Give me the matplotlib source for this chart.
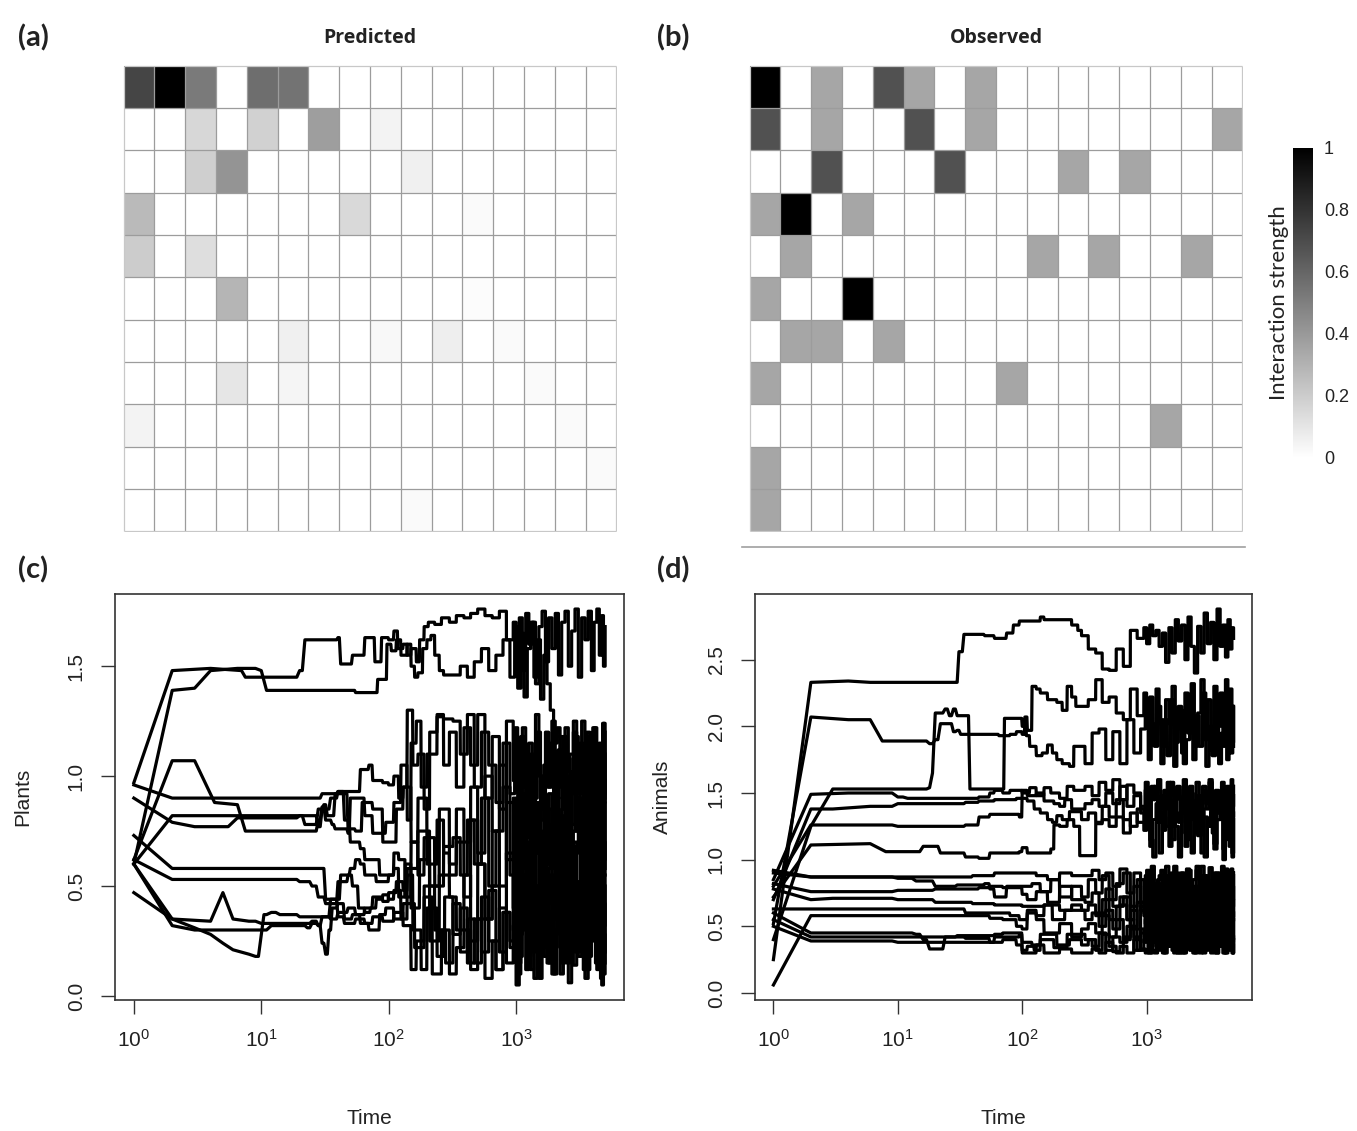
import numpy as np
import matplotlib
matplotlib.use("Agg")
import matplotlib.pyplot as plt
from matplotlib.colors import LinearSegmentedColormap
from matplotlib.lines import Line2D

W, H = 1357, 1131

# ---- heatmaps (rows = plants, cols = animals) ----
predicted = [
    [0.73, 1.00, 0.52, 0, 0.57, 0.55, 0, 0, 0, 0, 0, 0, 0, 0, 0, 0],
    [0, 0, 0.16, 0, 0.18, 0, 0.38, 0, 0.05, 0, 0, 0, 0, 0, 0, 0],
    [0, 0, 0.19, 0.42, 0, 0, 0, 0, 0, 0.06, 0, 0, 0, 0, 0, 0],
    [0.27, 0, 0, 0, 0, 0, 0, 0.15, 0, 0, 0, 0.02, 0, 0, 0, 0],
    [0.20, 0, 0.13, 0, 0, 0, 0, 0, 0, 0, 0, 0, 0, 0, 0, 0],
    [0, 0, 0, 0.29, 0, 0, 0, 0, 0, 0, 0, 0.015, 0, 0, 0, 0],
    [0, 0, 0, 0, 0, 0.06, 0, 0, 0.03, 0, 0.07, 0, 0.02, 0, 0, 0],
    [0, 0, 0, 0.10, 0, 0.04, 0, 0, 0, 0, 0, 0, 0, 0.02, 0, 0],
    [0.05, 0, 0, 0, 0, 0, 0, 0, 0, 0, 0, 0, 0, 0, 0.02, 0],
    [0, 0, 0, 0, 0, 0, 0, 0, 0, 0, 0, 0, 0, 0, 0, 0.02],
    [0, 0, 0, 0, 0, 0, 0, 0, 0, 0.02, 0, 0, 0, 0, 0, 0],
]
g, d = 0.35, 0.68
observed = [
    [1, 0, g, 0, d, g, 0, g, 0, 0, 0, 0, 0, 0, 0, 0],
    [d, 0, g, 0, 0, d, 0, g, 0, 0, 0, 0, 0, 0, 0, g],
    [0, 0, d, 0, 0, 0, d, 0, 0, 0, g, 0, g, 0, 0, 0],
    [g, 1, 0, g, 0, 0, 0, 0, 0, 0, 0, 0, 0, 0, 0, 0],
    [0, g, 0, 0, 0, 0, 0, 0, 0, g, 0, g, 0, 0, g, 0],
    [g, 0, 0, 1, 0, 0, 0, 0, 0, 0, 0, 0, 0, 0, 0, 0],
    [0, g, g, 0, g, 0, 0, 0, 0, 0, 0, 0, 0, 0, 0, 0],
    [g, 0, 0, 0, 0, 0, 0, 0, g, 0, 0, 0, 0, 0, 0, 0],
    [0, 0, 0, 0, 0, 0, 0, 0, 0, 0, 0, 0, 0, g, 0, 0],
    [g, 0, 0, 0, 0, 0, 0, 0, 0, 0, 0, 0, 0, 0, 0, 0],
    [g, 0, 0, 0, 0, 0, 0, 0, 0, 0, 0, 0, 0, 0, 0, 0],
]
cbar_ticks = [0, 0.2, 0.4, 0.6, 0.8, 1]
cbar_labels = ["0", "0.2", "0.4", "0.6", "0.8", "1"]

# ---- time series: early knots (time, value) then values on a late time grid ----
grid_a = [300, 340, 390, 440, 500, 570, 650, 740, 840, 950,
          1000, 1060, 1120, 1190, 1260, 1340, 1420, 1510, 1600, 1700,
          1800, 1910, 2030, 2150, 2280, 2420, 2570, 2730, 2900, 3080,
          3270, 3470, 3680, 3900, 4100, 4300, 4500, 4700, 4850, 5000]
grid_b = [320, 365, 415, 470, 535, 610, 695, 790, 895, 975,
          1030, 1090, 1155, 1225, 1300, 1380, 1465, 1555, 1650, 1750,
          1855, 1970, 2090, 2215, 2350, 2495, 2650, 2815, 2990, 3175,
          3370, 3575, 3790, 4000, 4200, 4400, 4600, 4775, 4925, 5000]

plants_early = [
    [(1, 0.97), (2, 1.48), (4, 1.49), (7, 1.48), (7.5, 1.45), (19, 1.45), (20, 1.48), (22, 1.62), (40, 1.63),
     (42, 1.51), (50, 1.51), (52, 1.55), (62, 1.55), (65, 1.63), (75, 1.63), (78, 1.52), (85, 1.52), (88, 1.63),
     (100, 1.62), (110, 1.66), (118, 1.58), (130, 1.60), (140, 1.55), (150, 1.58), (165, 1.52), (175, 1.62),
     (190, 1.68), (205, 1.70), (230, 1.69), (260, 1.72)],
    [(1, 0.60), (2, 1.39), (3, 1.40), (4, 1.48), (6.5, 1.49), (10, 1.48), (11, 1.39), (55, 1.38), (80, 1.38),
     (82, 1.44), (96, 1.44), (97, 1.60), (105, 1.57), (115, 1.62), (125, 1.55), (140, 1.60), (150, 1.50),
     (160, 1.45), (170, 1.47), (185, 1.58), (200, 1.62), (215, 1.64), (230, 1.55), (250, 1.48), (270, 1.46)],
    [(1, 0.62), (2, 1.07), (3, 1.07), (4.3, 0.88), (6.5, 0.87), (7.5, 0.75), (27, 0.75), (28, 0.80), (30, 0.86),
     (32, 0.80), (36, 0.78), (38, 0.76), (48, 0.74), (50, 0.90), (62, 0.90), (65, 0.82), (75, 0.74), (90, 0.74),
     (95, 0.79), (110, 0.88), (125, 1.05), (140, 0.80), (150, 1.15), (165, 1.25), (180, 0.95), (200, 1.10),
     (240, 1.28), (270, 1.05)],
    [(1, 0.96), (2, 0.90), (25, 0.90), (30, 0.92), (40, 0.93), (55, 0.93), (60, 1.03), (70, 1.05), (75, 0.98),
     (90, 0.97), (100, 0.96), (110, 1.00), (120, 0.90), (130, 0.95), (140, 1.30), (155, 1.05), (170, 1.10),
     (190, 0.85), (210, 1.20), (240, 1.27), (270, 1.26)],
    [(1, 0.90), (2, 0.79), (3, 0.77), (5.5, 0.77), (6.5, 0.81), (20, 0.82), (22, 0.78), (27, 0.78), (28, 0.85),
     (31, 0.87), (33, 0.82), (38, 0.92), (45, 0.92), (48, 0.76), (55, 0.75), (62, 0.88), (70, 0.88), (75, 0.85),
     (85, 0.85), (90, 0.70), (105, 0.70), (115, 0.85), (130, 0.95), (150, 0.70), (170, 0.90), (200, 0.60),
     (240, 0.80), (270, 0.65)],
    [(1, 0.60), (2, 0.82), (25, 0.82), (28, 0.77), (30, 0.85), (35, 0.90), (40, 0.93), (45, 0.80), (50, 0.70),
     (60, 0.67), (65, 0.62), (80, 0.62), (85, 0.55), (100, 0.55), (110, 0.65), (120, 0.62), (135, 0.45),
     (150, 0.70), (170, 0.55), (190, 0.72), (230, 0.50), (270, 0.68)],
    [(1, 0.73), (2, 0.58), (30, 0.58), (32, 0.44), (40, 0.44), (42, 0.55), (50, 0.58), (55, 0.62), (60, 0.60),
     (65, 0.55), (70, 0.55), (80, 0.52), (90, 0.52), (100, 0.55), (110, 0.58), (120, 0.45), (135, 0.60),
     (150, 0.40), (175, 0.62), (210, 0.25), (250, 0.55)],
    [(1, 0.62), (2, 0.53), (10, 0.53), (20, 0.52), (25, 0.50), (28, 0.45), (32, 0.42), (36, 0.42), (40, 0.52),
     (48, 0.55), (52, 0.50), (58, 0.40), (65, 0.38), (72, 0.40), (80, 0.44), (90, 0.46), (100, 0.44), (110, 0.48),
     (125, 0.35), (140, 0.55), (155, 0.30), (180, 0.12), (200, 0.40), (240, 0.18), (275, 0.45)],
    [(1, 0.60), (2, 0.35), (4, 0.34), (5, 0.47), (6, 0.35), (8, 0.34), (10, 0.33), (20, 0.33), (25, 0.34),
     (28, 0.32), (30, 0.36), (35, 0.44), (40, 0.36), (45, 0.33), (55, 0.35), (65, 0.33), (75, 0.36), (90, 0.34),
     (100, 0.34), (110, 0.38), (130, 0.32), (150, 0.12), (165, 0.25), (190, 0.45), (220, 0.10), (260, 0.30)],
    [(1, 0.60), (2, 0.32), (3, 0.30), (10, 0.30), (12, 0.32), (20, 0.32), (23, 0.31), (25, 0.33), (28, 0.32),
     (30, 0.24), (32, 0.19), (34, 0.30), (36, 0.40), (40, 0.42), (45, 0.35), (52, 0.37), (60, 0.33), (70, 0.30),
     (85, 0.37), (95, 0.40), (110, 0.35), (130, 0.42), (160, 0.22), (190, 0.50), (230, 0.30), (280, 0.15)],
    [(1, 0.47), (2, 0.35), (3, 0.31), (4, 0.28), (5, 0.24), (6, 0.21), (8, 0.19), (9, 0.18), (10.5, 0.37),
     (12, 0.38), (14, 0.37), (20, 0.36), (30, 0.36), (35, 0.35), (40, 0.38), (48, 0.40), (55, 0.37), (65, 0.40),
     (75, 0.45), (90, 0.43), (100, 0.47), (115, 0.52), (130, 0.48), (140, 0.58), (170, 0.75), (210, 0.50),
     (250, 0.85)],
]
plants_late = [
    [1.70, 1.73, 1.72, 1.74, 1.76, 1.73, 1.72, 1.75, 1.62, 1.70, 1.55, 1.72, 1.48, 1.74, 1.60, 1.70, 1.42, 1.68,
     1.75, 1.52, 1.72, 1.58, 1.74, 1.46, 1.70, 1.75, 1.50, 1.66, 1.76, 1.45, 1.72, 1.62, 1.75, 1.48, 1.70, 1.76,
     1.55, 1.73, 1.50, 1.68],
    [1.46, 1.50, 1.45, 1.52, 1.58, 1.48, 1.55, 1.62, 1.45, 1.68, 1.40, 1.65, 1.36, 1.58, 1.70, 1.45, 1.62, 1.35,
     1.55, 1.42, 1.30, 1.15, 1.22, 0.95, 1.18, 0.85, 1.10, 1.25, 0.90, 1.15, 0.80, 1.20, 1.00, 1.22, 0.85, 1.12,
     0.95, 1.24, 0.88, 1.20],
    [1.20, 0.95, 1.22, 1.05, 1.28, 0.90, 1.18, 0.85, 1.25, 0.98, 1.10, 0.80, 1.22, 0.92, 1.15, 0.78, 1.28, 1.00,
     0.85, 1.20, 0.95, 1.25, 0.82, 1.12, 0.90, 1.22, 1.02, 0.78, 1.18, 0.92, 1.25, 0.85, 1.10, 0.95, 1.22, 0.80,
     1.15, 0.98, 1.24, 0.90],
    [1.25, 1.10, 1.28, 0.95, 1.20, 1.05, 0.88, 1.15, 0.92, 1.22, 0.85, 1.18, 0.95, 0.75, 1.10, 0.90, 1.20, 0.80,
     1.05, 0.95, 1.15, 0.78, 1.00, 1.18, 0.85, 1.08, 0.92, 1.20, 0.80, 1.05, 0.95, 1.18, 0.75, 1.02, 0.88, 1.12,
     0.80, 1.05, 0.92, 1.10],
    [0.60, 0.85, 0.70, 0.95, 0.65, 1.00, 0.75, 1.05, 0.62, 0.90, 0.70, 1.02, 0.58, 0.95, 0.72, 1.08, 0.65, 0.88,
     1.00, 0.60, 0.92, 0.70, 1.05, 0.62, 0.85, 0.98, 0.68, 1.02, 0.75, 0.90, 0.60, 1.05, 0.72, 0.95, 0.65, 1.00,
     0.78, 0.92, 0.62, 0.98],
    [0.72, 0.55, 0.80, 0.60, 0.90, 0.50, 0.75, 0.95, 0.55, 0.85, 0.45, 0.92, 0.60, 0.80, 0.42, 0.88, 0.65, 0.98,
     0.50, 0.78, 0.58, 0.95, 0.45, 0.82, 0.62, 1.00, 0.48, 0.75, 0.90, 0.52, 0.85, 0.60, 0.95, 0.45, 0.80, 0.65,
     0.98, 0.50, 0.88, 0.55],
    [0.45, 0.30, 0.55, 0.25, 0.60, 0.35, 0.50, 0.20, 0.65, 0.30, 0.55, 0.18, 0.62, 0.35, 0.70, 0.22, 0.50, 0.65,
     0.28, 0.58, 0.15, 0.60, 0.35, 0.72, 0.25, 0.55, 0.40, 0.68, 0.20, 0.52, 0.30, 0.65, 0.18, 0.58, 0.38, 0.70,
     0.25, 0.60, 0.32, 0.55],
    [0.28, 0.40, 0.15, 0.35, 0.20, 0.48, 0.12, 0.38, 0.25, 0.55, 0.15, 0.45, 0.30, 0.60, 0.12, 0.50, 0.22, 0.65,
     0.18, 0.42, 0.55, 0.10, 0.48, 0.28, 0.62, 0.15, 0.45, 0.70, 0.20, 0.52, 0.12, 0.58, 0.30, 0.65, 0.15, 0.48,
     0.25, 0.60, 0.10, 0.50],
    [0.10, 0.22, 0.30, 0.12, 0.35, 0.08, 0.25, 0.40, 0.15, 0.32, 0.05, 0.28, 0.45, 0.12, 0.38, 0.20, 0.50, 0.08,
     0.35, 0.22, 0.45, 0.10, 0.30, 0.55, 0.15, 0.40, 0.06, 0.32, 0.48, 0.18, 0.38, 0.08, 0.45, 0.25, 0.52, 0.12,
     0.35, 0.05, 0.42, 0.20],
    [0.42, 0.20, 0.35, 0.15, 0.45, 0.25, 0.12, 0.38, 0.22, 0.50, 0.10, 0.40, 0.55, 0.18, 0.35, 0.08, 0.48, 0.25,
     0.58, 0.15, 0.38, 0.22, 0.52, 0.10, 0.45, 0.30, 0.60, 0.14, 0.40, 0.25, 0.55, 0.12, 0.35, 0.50, 0.18, 0.42,
     0.08, 0.48, 0.28, 0.15],
    [0.55, 0.70, 0.45, 0.80, 0.60, 0.35, 0.75, 0.50, 0.88, 0.40, 0.70, 0.30, 0.82, 0.55, 0.65, 0.92, 0.42, 0.75,
     0.28, 0.60, 0.85, 0.45, 0.70, 0.35, 0.90, 0.55, 0.78, 0.30, 0.65, 0.85, 0.40, 0.72, 0.55, 0.88, 0.35, 0.62,
     0.80, 0.45, 0.70, 0.58],
]

animals_early = [
    [(1, 0.25), (2, 2.33), (4, 2.34), (6, 2.33), (30, 2.33), (31, 2.56), (34, 2.69), (50, 2.68), (60, 2.66),
     (70, 2.66), (75, 2.70), (85, 2.76), (95, 2.79), (130, 2.79), (140, 2.82), (150, 2.80), (240, 2.80),
     (250, 2.76), (280, 2.72)],
    [(1, 0.52), (2, 2.07), (4, 2.05), (6, 2.05), (7.5, 1.89), (18, 1.87), (20, 1.90), (22, 2.02), (27, 2.02),
     (28, 1.96), (30, 1.97), (32, 1.94), (60, 1.94), (65, 1.93), (80, 1.94), (90, 1.96), (100, 1.94), (105, 2.03),
     (108, 1.93), (115, 1.85), (130, 1.78), (145, 1.80), (160, 1.86), (175, 1.80), (190, 1.75), (210, 1.72),
     (240, 1.70), (260, 1.85)],
    [(1, 0.40), (2, 1.25), (3, 1.53), (18, 1.54), (19, 1.65), (20, 2.10), (24, 2.13), (26, 2.08), (28, 2.13),
     (30, 2.08), (36, 2.08), (38, 1.53), (70, 1.53), (72, 2.06), (95, 2.06), (100, 2.00), (105, 2.07),
     (110, 1.97), (120, 2.30), (130, 2.28), (140, 2.25), (160, 2.20), (190, 2.18), (210, 2.12), (230, 2.30),
     (250, 2.22), (270, 2.15)],
    [(1, 0.85), (2, 1.49), (4, 1.50), (10, 1.47), (12, 1.46), (30, 1.46), (45, 1.47), (55, 1.50), (60, 1.52),
     (70, 1.50), (80, 1.52), (100, 1.50), (115, 1.54), (130, 1.48), (150, 1.54), (170, 1.50), (200, 1.46),
     (230, 1.55), (260, 1.52)],
    [(1, 0.70), (2, 1.38), (3, 1.38), (6, 1.40), (10, 1.42), (20, 1.42), (35, 1.43), (45, 1.44), (60, 1.45),
     (90, 1.46), (110, 1.44), (125, 1.38), (140, 1.35), (160, 1.30), (175, 1.28), (190, 1.33), (210, 1.30),
     (240, 1.36)],
    [(1, 0.80), (2, 1.26), (10, 1.25), (30, 1.25), (35, 1.26), (45, 1.32), (50, 1.32), (55, 1.34), (85, 1.34),
     (95, 1.32), (100, 1.52), (110, 1.48), (130, 1.50), (150, 1.44), (180, 1.42), (200, 1.40), (220, 1.45),
     (250, 1.38)],
    [(1, 0.72), (2, 1.11), (6, 1.12), (8, 1.06), (14, 1.06), (16, 1.10), (19, 1.10), (22, 1.05), (35, 1.02),
     (45, 1.01), (55, 1.05), (80, 1.05), (95, 1.06), (100, 1.09), (110, 1.05), (150, 1.05), (170, 1.08),
     (180, 1.26), (200, 1.25), (230, 1.30), (260, 1.25), (290, 1.03)],
    [(1, 0.92), (2, 0.87), (15, 0.87), (30, 0.87), (40, 0.88), (60, 0.90), (100, 0.90), (130, 0.88),
     (160, 0.85), (200, 0.90), (250, 0.88)],
    [(1, 0.90), (2, 0.87), (10, 0.86), (14, 0.84), (20, 0.80), (30, 0.81), (50, 0.82), (55, 0.78), (60, 0.72),
     (70, 0.72), (75, 0.80), (100, 0.80), (120, 0.82), (140, 0.76), (170, 0.85), (200, 0.72), (250, 0.80)],
    [(1, 0.82), (2, 0.76), (10, 0.77), (20, 0.78), (35, 0.78), (45, 0.79), (55, 0.80), (70, 0.79), (100, 0.74),
     (110, 0.70), (130, 0.76), (160, 0.68), (200, 0.80), (250, 0.70)],
    [(1, 0.78), (2, 0.70), (3, 0.71), (10, 0.70), (20, 0.68), (40, 0.67), (60, 0.66), (100, 0.65), (150, 0.66),
     (200, 0.62), (250, 0.66)],
    [(1, 0.63), (2, 0.63), (10, 0.63), (30, 0.63), (35, 0.60), (50, 0.60), (80, 0.58), (95, 0.55), (110, 0.62),
     (130, 0.58), (150, 0.66), (175, 0.55), (220, 0.62)],
    [(1, 0.06), (2, 0.58), (10, 0.58), (45, 0.58), (55, 0.56), (70, 0.55), (90, 0.50), (100, 0.48), (110, 0.60),
     (130, 0.55), (150, 0.45), (200, 0.52), (250, 0.42)],
    [(1, 0.60), (2, 0.45), (10, 0.45), (14, 0.44), (16, 0.40), (18, 0.33), (22, 0.33), (24, 0.42), (30, 0.43),
     (40, 0.43), (60, 0.44), (70, 0.45), (95, 0.45), (100, 0.32), (110, 0.35), (125, 0.32), (140, 0.40),
     (180, 0.34), (230, 0.44)],
    [(1, 0.55), (2, 0.42), (10, 0.42), (30, 0.42), (35, 0.41), (50, 0.41), (55, 0.38), (60, 0.42), (80, 0.42),
     (95, 0.44), (100, 0.38), (120, 0.36), (140, 0.44), (190, 0.36), (240, 0.40)],
    [(1, 0.50), (2, 0.39), (10, 0.38), (20, 0.38), (40, 0.38), (60, 0.38), (70, 0.40), (90, 0.36), (100, 0.30),
     (115, 0.30), (130, 0.36), (150, 0.30), (200, 0.33), (250, 0.30)],
]
animals_late = [
    [2.68, 2.58, 2.55, 2.43, 2.42, 2.58, 2.45, 2.72, 2.66, 2.74, 2.62, 2.76, 2.68, 2.72, 2.60, 2.70, 2.48, 2.74,
     2.55, 2.80, 2.64, 2.76, 2.50, 2.82, 2.60, 2.40, 2.75, 2.55, 2.85, 2.62, 2.78, 2.50, 2.88, 2.60, 2.76, 2.52,
     2.80, 2.58, 2.74, 2.66],
    [1.72, 1.95, 1.98, 1.75, 1.96, 1.72, 2.05, 1.80, 1.98, 2.10, 1.75, 2.02, 1.85, 2.15, 1.72, 2.05, 1.78, 2.20,
     1.70, 1.98, 2.12, 1.72, 1.90, 2.22, 1.75, 2.08, 1.85, 2.25, 1.70, 2.00, 1.78, 2.18, 1.72, 1.95, 2.22, 1.75,
     2.10, 1.80, 2.15, 1.85],
    [2.15, 2.20, 2.35, 2.18, 2.22, 2.10, 2.05, 2.28, 2.08, 2.25, 2.00, 2.22, 1.90, 2.28, 2.05, 1.85, 2.20, 2.02,
     2.30, 1.88, 2.15, 1.80, 2.25, 1.95, 2.32, 1.85, 2.10, 2.35, 1.90, 2.20, 1.82, 2.30, 2.00, 2.25, 1.85, 2.35,
     1.95, 2.28, 1.88, 2.15],
    [1.55, 1.48, 1.58, 1.52, 1.60, 1.45, 1.56, 1.50, 1.40, 1.58, 1.32, 1.55, 1.45, 1.60, 1.28, 1.52, 1.40, 1.58,
     1.30, 1.55, 1.45, 1.60, 1.25, 1.50, 1.38, 1.58, 1.30, 1.55, 1.42, 1.60, 1.28, 1.52, 1.45, 1.58, 1.22, 1.55,
     1.35, 1.60, 1.40, 1.55],
    [1.30, 1.35, 1.28, 1.40, 1.32, 1.45, 1.30, 1.25, 1.38, 1.28, 1.35, 1.10, 1.30, 1.42, 1.05, 1.32, 1.25, 1.40,
     1.15, 1.35, 1.28, 1.45, 1.10, 1.30, 1.38, 1.20, 1.48, 1.05, 1.32, 1.25, 1.42, 1.12, 1.35, 1.50, 1.08, 1.30,
     1.22, 1.45, 1.02, 1.35],
    [1.42, 1.45, 1.40, 1.50, 1.42, 1.55, 1.40, 1.48, 1.35, 1.52, 1.30, 1.45, 1.55, 1.28, 1.48, 1.38, 1.58, 1.25,
     1.45, 1.52, 1.35, 1.48, 1.15, 1.55, 1.30, 1.45, 1.22, 1.52, 1.38, 1.58, 1.20, 1.48, 1.35, 1.55, 1.25, 1.45,
     1.10, 1.52, 1.32, 1.48],
    [1.03, 1.03, 1.27, 1.30, 1.25, 1.32, 1.20, 1.35, 1.28, 1.22, 1.30, 1.15, 1.02, 1.28, 1.35, 1.22, 1.40, 1.10,
     1.30, 1.25, 1.02, 1.35, 1.20, 1.42, 1.05, 1.30, 1.18, 1.38, 1.02, 1.25, 1.35, 1.08, 1.30, 1.42, 1.00, 1.28,
     1.15, 1.40, 1.05, 1.30],
    [0.88, 0.92, 0.85, 0.90, 0.80, 0.93, 0.75, 0.90, 0.62, 0.88, 0.70, 0.95, 0.55, 0.85, 0.92, 0.60, 0.88, 0.75,
     0.95, 0.50, 0.90, 0.68, 0.93, 0.58, 0.85, 0.95, 0.45, 0.88, 0.72, 0.94, 0.55, 0.90, 0.80, 0.95, 0.62, 0.88,
     0.50, 0.93, 0.70, 0.90],
    [0.72, 0.85, 0.75, 0.88, 0.70, 0.82, 0.90, 0.65, 0.85, 0.58, 0.92, 0.70, 0.80, 0.45, 0.88, 0.62, 0.95, 0.55,
     0.78, 0.90, 0.40, 0.85, 0.65, 0.92, 0.50, 0.80, 0.70, 0.95, 0.42, 0.82, 0.60, 0.90, 0.48, 0.85, 0.75, 0.93,
     0.38, 0.80, 0.65, 0.88],
    [0.68, 0.75, 0.60, 0.78, 0.65, 0.72, 0.55, 0.80, 0.68, 0.48, 0.85, 0.60, 0.75, 0.40, 0.82, 0.55, 0.70, 0.90,
     0.45, 0.72, 0.62, 0.88, 0.38, 0.75, 0.58, 0.92, 0.50, 0.68, 0.85, 0.42, 0.78, 0.55, 0.90, 0.35, 0.70, 0.62,
     0.88, 0.48, 0.80, 0.58],
    [0.62, 0.66, 0.58, 0.70, 0.55, 0.65, 0.72, 0.50, 0.68, 0.60, 0.45, 0.75, 0.58, 0.82, 0.40, 0.68, 0.52, 0.85,
     0.35, 0.70, 0.60, 0.90, 0.45, 0.65, 0.78, 0.38, 0.72, 0.55, 0.88, 0.42, 0.68, 0.50, 0.82, 0.35, 0.75, 0.60,
     0.92, 0.40, 0.70, 0.55],
    [0.55, 0.60, 0.50, 0.62, 0.48, 0.66, 0.55, 0.42, 0.65, 0.52, 0.70, 0.38, 0.60, 0.78, 0.45, 0.62, 0.35, 0.72,
     0.50, 0.85, 0.40, 0.65, 0.55, 0.80, 0.32, 0.68, 0.48, 0.88, 0.38, 0.62, 0.75, 0.42, 0.58, 0.90, 0.35, 0.65,
     0.50, 0.82, 0.40, 0.60],
    [0.48, 0.52, 0.45, 0.58, 0.42, 0.55, 0.40, 0.62, 0.48, 0.38, 0.65, 0.45, 0.55, 0.32, 0.70, 0.42, 0.60, 0.35,
     0.75, 0.48, 0.30, 0.62, 0.45, 0.80, 0.38, 0.55, 0.68, 0.32, 0.58, 0.42, 0.72, 0.35, 0.60, 0.48, 0.85, 0.30,
     0.52, 0.65, 0.38, 0.55],
    [0.40, 0.35, 0.45, 0.32, 0.42, 0.38, 0.50, 0.32, 0.45, 0.55, 0.30, 0.48, 0.38, 0.60, 0.32, 0.52, 0.42, 0.35,
     0.65, 0.30, 0.50, 0.38, 0.58, 0.32, 0.45, 0.70, 0.30, 0.48, 0.55, 0.35, 0.62, 0.30, 0.45, 0.52, 0.32, 0.68,
     0.38, 0.48, 0.30, 0.42],
    [0.36, 0.40, 0.32, 0.44, 0.35, 0.30, 0.42, 0.48, 0.32, 0.40, 0.52, 0.30, 0.45, 0.35, 0.55, 0.30, 0.42, 0.50,
     0.32, 0.60, 0.38, 0.30, 0.48, 0.35, 0.58, 0.30, 0.42, 0.52, 0.32, 0.45, 0.30, 0.55, 0.38, 0.48, 0.30, 0.62,
     0.35, 0.45, 0.30, 0.40],
    [0.30, 0.33, 0.30, 0.38, 0.31, 0.35, 0.30, 0.40, 0.33, 0.30, 0.42, 0.32, 0.30, 0.45, 0.35, 0.30, 0.38, 0.48,
     0.30, 0.35, 0.42, 0.30, 0.50, 0.33, 0.30, 0.45, 0.38, 0.30, 0.52, 0.32, 0.40, 0.30, 0.35, 0.48, 0.30, 0.42,
     0.32, 0.55, 0.30, 0.36],
]

time_ticks = [1, 10, 100, 1000]
time_labels = [r"$\mathregular{10^{0}}$", r"$\mathregular{10^{1}}$", r"$\mathregular{10^{2}}$", r"$\mathregular{10^{3}}$"]
plant_yticks = [0.0, 0.5, 1.0, 1.5]
animal_yticks = [0.0, 0.5, 1.0, 1.5, 2.0, 2.5]


def series_xy(knots, late_t, late_v):
    # integer-time series drawn like R: a value holds until the step before it changes
    pts = list(knots) + list(zip(late_t, late_v))
    xs, ys = [], []
    for t, v in pts:
        if xs and t > 8 and t - 1 > xs[-1]:
            xs.append(t - 1)
            ys.append(ys[-1])
        xs.append(t)
        ys.append(v)
    return xs, ys


def fx(px):
    return px / W


def fy(py):
    return 1 - py / H


plt.rcParams["font.family"] = ["Liberation Sans", "DejaVu Sans"]
fig = plt.figure(figsize=(W / 100, H / 100), dpi=100)
cmap = LinearSegmentedColormap.from_list("wb", ["white", "black"])

# ---- heatmaps ----
heat_boxes = [(123, 617), (749, 1243)]
mesh = None
for (x0, x1), mat in zip(heat_boxes, [predicted, observed]):
    ax = fig.add_axes([fx(x0), fy(532), fx(x1 - x0), (532 - 65) / H])
    m = np.array(mat)
    nr, nc = m.shape
    mesh = ax.pcolormesh(m, cmap=cmap, vmin=0, vmax=1, edgecolors="none", antialiased=False)
    ax.vlines(np.arange(1, nc), 0, nr, color="#9c9c9c", lw=0.9)
    ax.hlines(np.arange(1, nr), 0, nc, color="#9c9c9c", lw=0.9)
    ax.vlines([0, nc], 0, nr, color="#c8c8c8", lw=0.9)
    ax.hlines([0, nr], 0, nc, color="#c8c8c8", lw=0.9)
    ax.set_xlim(-0.02, nc + 0.02)
    ax.set_ylim(nr + 0.02, -0.02)
    ax.set_axis_off()

fig.text(fx(370), fy(38), "Predicted", ha="center", va="center", fontsize=14, fontweight="bold",
         family=["Open Sans", "DejaVu Sans"], color="#222")
fig.text(fx(996), fy(38), "Observed", ha="center", va="center", fontsize=14, fontweight="bold",
         family=["Open Sans", "DejaVu Sans"], color="#222")
fig.add_artist(Line2D([fx(742), fx(1245)], [fy(547), fy(547)], color="#a0a0a0", lw=1.2))

cax = fig.add_axes([fx(1293), fy(458), fx(20), (458 - 148) / H])
cb = fig.colorbar(mesh, cax=cax, ticks=cbar_ticks)
cb.outline.set_visible(False)
cb.ax.set_yticklabels(cbar_labels)
cb.ax.tick_params(length=0, pad=8, labelsize=13, labelcolor="#222")
cb.ax.yaxis.set_label_position("left")
cb.set_label("Interaction strength", fontsize=16, family=["Lato", "DejaVu Sans"], labelpad=3, color="#222")

for lab, x, y in [("(a)", 18, 38), ("(b)", 657, 38), ("(c)", 18, 570), ("(d)", 657, 570)]:
    fig.text(fx(x), fy(y), lab, ha="left", va="center", fontsize=21, fontweight="bold",
             family=["Lato", "DejaVu Sans"], color="#222")

# ---- time series ----
panels = [
    (115, 624, plants_early, plants_late, plant_yticks, "Plants"),
    (755, 1252, animals_early, animals_late, animal_yticks, "Animals"),
]
for x0, x1, early, late, yt, ylab in panels:
    ax = fig.add_axes([fx(x0), fy(1000), fx(x1 - x0), (1000 - 594) / H])
    allv = []
    for i, (kn, lv) in enumerate(zip(early, late)):
        grid = grid_a if i % 2 == 0 else grid_b
        xs, ys = series_xy(kn, grid, lv)
        allv += ys
        ax.plot(xs, ys, color="black", lw=2.3)
    ax.set_xscale("log")
    lo, hi = 0.0, np.log10(5000)
    pad = 0.04 * (hi - lo)
    ax.set_xlim(10 ** (lo - pad), 10 ** (hi + pad))
    vmin, vmax = min(allv), max(allv)
    pad = 0.04 * (vmax - vmin)
    ax.set_ylim(vmin - pad, vmax + pad)
    ax.set_xticks(time_ticks)
    ax.set_xticklabels(time_labels)
    ax.minorticks_off()
    ax.set_yticks(yt)
    ax.set_yticklabels(["%.1f" % v for v in yt], rotation=90, va="center")
    ax.tick_params(direction="out", length=10, width=1, colors="#333", labelcolor="#222",
                   labelsize=15, pad=11)
    for s in ax.spines.values():
        s.set_color("#333")
        s.set_linewidth(1.2)
    ax.set_xlabel("Time", fontsize=15, color="#222", labelpad=42)
    ax.set_ylabel(ylab, fontsize=15, color="#222", labelpad=25)

fig.savefig("out.png", dpi=100)
